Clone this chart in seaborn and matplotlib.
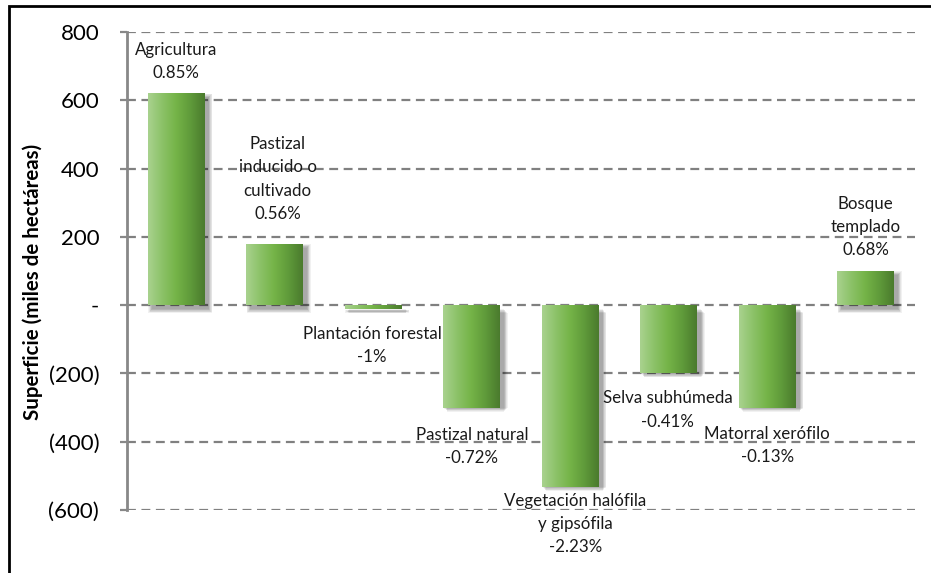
import numpy as np
import pandas as pd
import matplotlib
matplotlib.use("Agg")
import matplotlib.pyplot as plt
import matplotlib.transforms as mtransforms
from matplotlib.colors import LinearSegmentedColormap
from matplotlib.patches import Rectangle
import seaborn as sns

# Land-cover change by vegetation type (thousands of hectares) and rate labels
categories = [
    "Agricultura",
    "Pastizal\ninducido o\ncultivado",
    "Plantación forestal",
    "Pastizal natural",
    "Vegetación halófila\ny gipsófila",
    "Selva subhúmeda",
    "Matorral xerófilo",
    "Bosque\ntemplado",
]
change = [620, 180, -12, -300, -532, -200, -300, 100]
rates = ["0.85%", "0.56%", "-1%", "-0.72%", "-2.23%", "-0.41%", "-0.13%", "0.68%"]

y_ticks = [800, 600, 400, 200, 0, -200, -400, -600]
y_tick_labels = ["800", "600", "400", "200", "-", "(200)", "(400)", "(600)"]

df = pd.DataFrame({"categoria": categories, "cambio": change})

sns.set_theme(style="white")
plt.rcParams["font.family"] = ["Lato", "DejaVu Sans"]

W, H = 931, 573
fig = plt.figure(figsize=(W / 100, H / 100), dpi=100)
ax = fig.add_axes([127 / W, 1 - 510 / H, (915 - 127) / W, (510 - 32) / H])

sns.barplot(data=df, x="categoria", y="cambio", ax=ax, width=0.575,
            color="#74b347", saturation=1, zorder=3)

ax.set_ylim(-600, 800)
ax.set_xlim(-0.5, len(categories) - 0.5)

# dashed horizontal gridlines
for t in y_ticks:
    ax.axhline(t, color="#808080", lw=1.6, ls=(0, (4, 2.5)), zorder=1)

# green horizontal gradient on each bar, with a soft drop shadow
cmap = LinearSegmentedColormap.from_list(
    "verde", ["#a9d28f", "#8cc268", "#74b347", "#5f9a3a", "#4a7a2d"])
grad = np.linspace(0, 1, 256).reshape(1, -1)
px_x = 1 / 98.5          # data units per pixel along x
px_y = 1400 / 478        # data units per pixel along y
for p in ax.patches:
    x0, y0 = p.get_x(), p.get_y()
    w, h = p.get_width(), p.get_height()
    shift = mtransforms.ScaledTranslation(4 / 100, -4 / 100, fig.dpi_scale_trans)
    for k in range(7):
        ax.add_patch(Rectangle((x0 - k * px_x * 0.6, y0 - k * px_y * 0.6),
                               w + 1.2 * k * px_x, h + 1.2 * k * px_y,
                               facecolor="black", edgecolor="none", alpha=0.055,
                               transform=ax.transData + shift, zorder=2))
    p.set_edgecolor("none")
    im = ax.imshow(grad, cmap=cmap, aspect="auto", zorder=4,
                   extent=[x0, x0 + w, y0, y0 + h], interpolation="bicubic")
    im.set_clip_path(p)

ax.set_xlim(-0.5, len(categories) - 0.5)
ax.set_ylim(-600, 800)

# category labels outside the bar ends: (dx px, gap px)
label_shift = [(0, 12), (3, 22), (-1, 17), (0, 19), (5, 6), (-1, 17), (0, 18), (0, 13)]
for i, (cat, val, rate) in enumerate(zip(categories, change, rates)):
    dx, gap = label_shift[i]
    up = val >= 0
    ax.annotate(f"{cat}\n{rate}", xy=(i, val),
                xytext=(dx * 0.72, (gap if up else -gap) * 0.72),
                textcoords="offset points", ha="center",
                va="bottom" if up else "top", fontsize=12.2,
                linespacing=1.55, color="#1a1a1a", zorder=6)

ax.set_yticks(y_ticks)
ax.set_yticklabels(y_tick_labels)
ax.set_xticks([])
ax.set_xlabel("")
ax.set_ylabel("Superficie (miles de hectáreas)", fontsize=14.8,
              fontweight="bold", color="black")
ax.yaxis.set_label_coords(-0.107, 0.478)
ax.tick_params(axis="y", length=5, width=1.6, color="#888888", pad=15,
               labelsize=16, labelcolor="black", left=True)

for side in ["top", "right", "bottom"]:
    ax.spines[side].set_visible(False)
ax.spines["left"].set_color("#888888")
ax.spines["left"].set_linewidth(2)
ax.spines["left"].set_zorder(5)

# outer frame of the chart area
fig.patches.append(Rectangle((8.5 / W, -0.5), 2, 1 - 5.5 / H + 0.5,
                             transform=fig.transFigure, fill=False,
                             edgecolor="black", lw=2, clip_on=False))

fig.savefig("out.png", dpi=100, facecolor="white")
